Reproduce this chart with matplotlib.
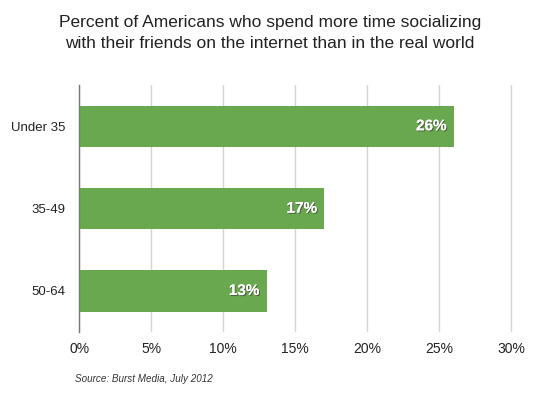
import matplotlib
matplotlib.use("Agg")
import matplotlib.pyplot as plt
import matplotlib.patheffects as pe

plt.rcParams['font.family'] = ['Liberation Sans', 'DejaVu Sans']

# data
groups = ["Under 35", "35-49", "50-64"]
shares = [26, 17, 13]
xticks = [0, 5, 10, 15, 20, 25, 30]

bar_color = "#6aa84f"

fig = plt.figure(figsize=(5.4, 3.94), dpi=100)
ax = fig.add_axes([0.147, 0.157, 0.805, 0.627])

ypos = list(range(len(groups)))
bars = ax.barh(ypos, shares, height=0.5, color=bar_color, zorder=3)

for y, v in zip(ypos, shares):
    ax.text(v - 0.5, y, f"{v}%", ha="right", va="center", color="white",
            fontsize=11, fontweight="bold", zorder=4,
            path_effects=[pe.withSimplePatchShadow(offset=(0.8, -0.8), shadow_rgbFace="#333333", alpha=0.6),
                          pe.Normal()])

ax.set_xlim(0, 30.2)
ax.set_ylim(2.5, -0.5)
ax.set_xticks(xticks)
ax.set_xticklabels([f"{t}%" for t in xticks], fontsize=10, color="#222222")
ax.set_yticks(ypos)
ax.set_yticklabels(groups, fontsize=9.5, color="#222222")
ax.tick_params(axis="x", length=0, pad=7)
ax.tick_params(axis="y", length=0, pad=10)

ax.grid(axis="x", color="#d4d4d4", linewidth=1, zorder=0)
for s in ["top", "right", "bottom"]:
    ax.spines[s].set_visible(False)
ax.spines["left"].set_color("#777777")
ax.spines["left"].set_linewidth(1)
ax.spines["left"].set_zorder(5)

fig.text(0.5, 0.916, "Percent of Americans who spend more time socializing\nwith their friends on the internet than in the real world",
         ha="center", va="center", fontsize=12.5, color="#222222", linespacing=1.45)
fig.text(0.139, 0.038, "Source: Burst Media, July 2012", ha="left", va="center",
         fontsize=7.1, style="italic", color="#333333")

fig.savefig("out.png", dpi=100)
